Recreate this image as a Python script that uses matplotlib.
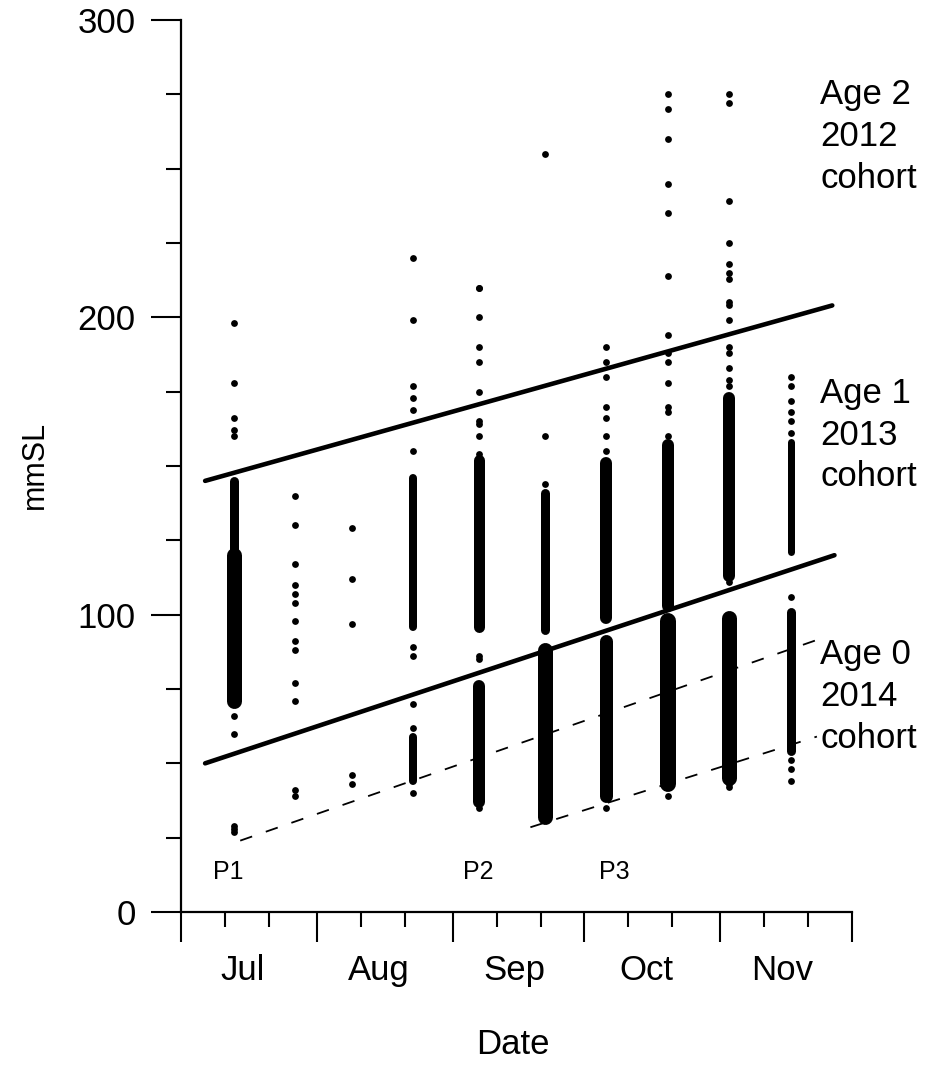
import numpy as np
import matplotlib.pyplot as plt
import matplotlib.dates as mdates

plt.rcParams['font.family'] = ['Liberation Sans', 'DejaVu Sans']

# ---------- data ----------
# sampling dates (2014), one column of fish per date
sample_dates = ['2014-07-13', '2014-07-27', '2014-08-09', '2014-08-23', '2014-09-07',
                '2014-09-22', '2014-10-06', '2014-10-20', '2014-11-03', '2014-11-17']

# single, clearly separated fish (mm SL) for each sampling column
sparse_sl = [
    [198, 178, 166, 162, 160, 70, 66, 60, 29, 28, 27],
    [140, 130, 117, 110, 107, 104, 98, 91, 88, 77, 71, 41, 39],
    [129, 112, 97, 46, 43],
    [220, 199, 177, 173, 169, 155, 89, 86, 70, 62, 40],
    [210, 210, 200, 190, 185, 175, 165, 164, 160, 154, 86, 85, 35],
    [255, 160, 144, 31],
    [190, 185, 180, 170, 166, 160, 155, 35],
    [275, 270, 260, 245, 235, 214, 194, 188, 185, 178, 170, 168, 160, 39],
    [275, 272, 239, 225, 218, 215, 213, 205, 204, 199, 190, 188, 183, 179, 177, 111, 43, 42],
    [180, 177, 172, 168, 165, 161, 106, 51, 48, 44],
]

# stretches where the fish overlap into a solid bar: column index, low, high (mm SL)
band_col = [0, 0, 3, 3, 4, 4, 5, 5, 6, 6, 7, 7, 8, 8, 9, 9]
band_low = [120, 71, 96, 44, 96, 37, 95, 32, 99, 39, 103, 43, 113, 45, 121, 54]
band_high = [145, 120, 146, 59, 152, 76, 141, 88, 151, 91, 157, 98, 173, 99, 158, 101]
band_width_px = [9, 15, 8, 8, 11, 12, 9, 15, 12, 13, 12, 16, 12, 15, 7, 9]

# cohort separation lines
upper_line_dates = ['2014-07-06 12:00', '2014-11-26 12:00']
upper_line_sl = [145, 204]
middle_line_dates = ['2014-07-06 12:00', '2014-11-27 00:00']
middle_line_sl = [50, 120]
dash_a_dates = ['2014-07-14 12:00', '2014-11-23 00:00']
dash_a_sl = [24, 91.5]
dash_b_dates = ['2014-09-18 16:00', '2014-11-23 00:00']
dash_b_sl = [28.5, 59]

month_labels = ['Jul', 'Aug', 'Sep', 'Oct', 'Nov']
period_labels = ['P1', 'P2', 'P3']
period_dates = ['2014-07-11 16:00', '2014-09-06 20:00', '2014-10-07 20:00']
cohort_labels = ['Age 2\n2012\ncohort', 'Age 1\n2013\ncohort', 'Age 0\n2014\ncohort']
cohort_tops = [280.5, 180, 92]

# ---------- plot ----------
fig = plt.figure(figsize=(9.3, 10.69), dpi=100)
ax = fig.add_axes([181 / 930, 1 - 912 / 1069, (852 - 181) / 930, (912 - 20) / 1069])

to_num = mdates.datestr2num
px_to_pt = 72 / 100

for d, vals in zip(sample_dates, sparse_sl):
    ax.scatter(np.full(len(vals), to_num(d)), vals, s=24, color='black', linewidths=0, zorder=3)

band_x = [to_num(sample_dates[c]) for c in band_col]
bands = ax.vlines(band_x, band_low, band_high, colors='black',
                  linewidths=[w * px_to_pt for w in band_width_px], zorder=3)
bands.set_capstyle('round')

ax.plot(to_num(upper_line_dates), upper_line_sl, color='black', lw=3.3, solid_capstyle='round')
ax.plot(to_num(middle_line_dates), middle_line_sl, color='black', lw=3.3, solid_capstyle='round')
ax.plot(to_num(dash_a_dates), dash_a_sl, color='black', lw=1.3, dashes=(7, 8))
ax.plot(to_num(dash_b_dates), dash_b_sl, color='black', lw=1.3, dashes=(7, 8))

ax.set_xlim(to_num('2014-07-01'), to_num('2014-12-01'))
ax.set_ylim(0, 300)

ax.spines['top'].set_visible(False)
ax.spines['right'].set_visible(False)
for s in ['left', 'bottom']:
    ax.spines[s].set_linewidth(1.6)

ax.xaxis.set_major_locator(mdates.MonthLocator())
ax.xaxis.set_minor_locator(mdates.DayLocator(bymonthday=[11, 21]))
ax.xaxis.set_major_formatter(plt.NullFormatter())
ax.set_yticks([0, 100, 200, 300])
ax.set_yticks(np.arange(25, 300, 25), minor=True)
ax.tick_params(which='major', length=21.5, width=1.5, direction='out')
ax.tick_params(which='minor', length=10.8, width=1.5, direction='out')
ax.tick_params(axis='y', labelsize=25, pad=11)

for i, m in enumerate(month_labels):
    mid = to_num('2014-%02d-15' % (7 + i))
    ax.annotate(m, xy=(mid, 0), xycoords=('data', 'axes fraction'),
                xytext=(0, -42), textcoords='offset points',
                ha='center', va='center', fontsize=25)

for lab, d in zip(period_labels, period_dates):
    ax.text(to_num(d), 13.5, lab, ha='center', va='center', fontsize=18)

for lab, top in zip(cohort_labels, cohort_tops):
    ax.text(to_num('2014-11-23 18:00'), top, lab, ha='left', va='top',
            fontsize=25, linespacing=1.34, clip_on=False)

fig.text(513 / 930, 1 - 1045 / 1069, 'Date', ha='center', va='center', fontsize=25)
fig.text(35 / 930, 1 - 465 / 1069, 'mmSL', ha='center', va='center', rotation=90, fontsize=22)

fig.savefig('out.png', dpi=100)
